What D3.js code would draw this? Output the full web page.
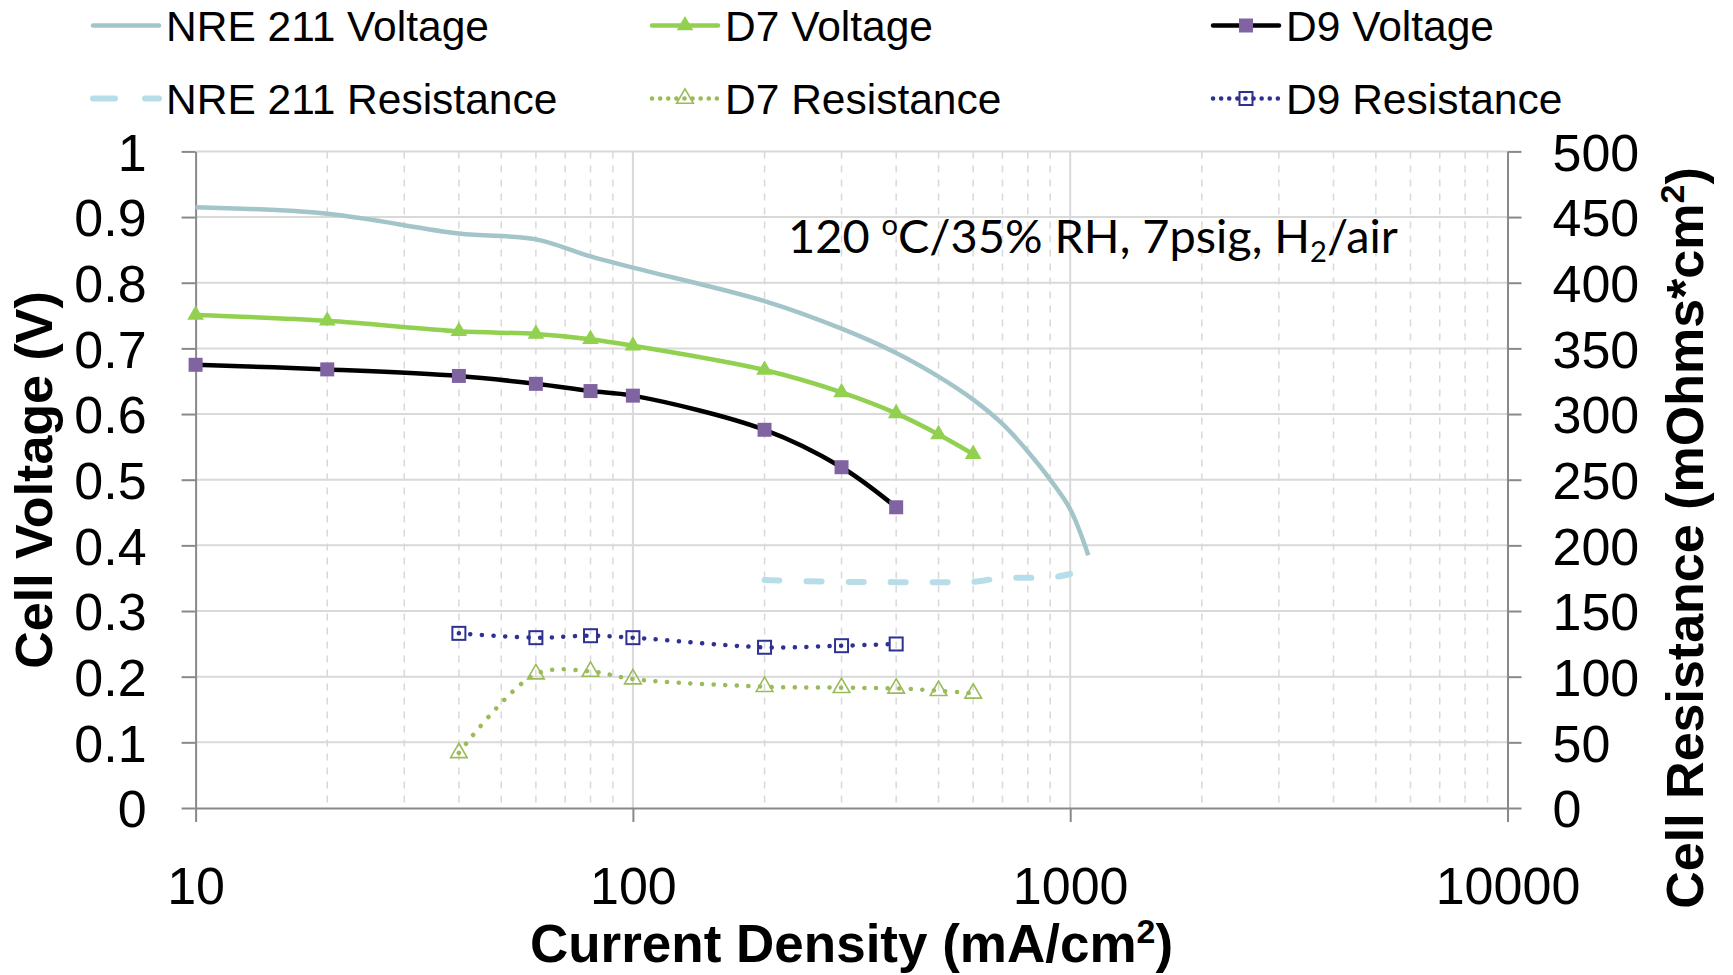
<!DOCTYPE html>
<html>
<head>
<meta charset="utf-8">
<script src="https://cdn.jsdelivr.net/npm/d3@7"></script>
<style>
  body { margin: 0; background: #fff; }
  svg { display: block; }
  text { fill: #000; }
</style>
</head>
<body>
<svg id="chart" width="1733" height="975" font-family="'Liberation Sans', Arial, sans-serif"></svg>
<script>
// current density (mA/cm2) and measured values
const nreCurrent = [10, 20, 40, 60, 80, 100, 200, 300, 400, 500, 600, 700, 800, 900, 1000, 1100];
const nreVoltage = [0.915, 0.905, 0.875, 0.866, 0.84, 0.823, 0.772, 0.73, 0.693, 0.657, 0.622, 0.585, 0.543, 0.5, 0.455, 0.385];

const d7Current = [10, 20, 40, 60, 80, 100, 200, 300, 400, 500, 600];
const d7Voltage = [0.751, 0.742, 0.726, 0.722, 0.714, 0.704, 0.667, 0.633, 0.601, 0.569, 0.539];

const d9Current = [10, 20, 40, 60, 80, 100, 200, 300, 400];
const d9Voltage = [0.675, 0.668, 0.658, 0.646, 0.635, 0.628, 0.576, 0.519, 0.458];

const nreResCurrent = [200, 300, 400, 500, 600, 700, 800, 900, 1000];
const nreResistance = [173.6, 172.2, 172.0, 172.0, 172.2, 175.2, 175.3, 175.3, 178.2];

const d7ResCurrent = [40, 60, 80, 100, 200, 300, 400, 500, 600];
const d7Resistance = [42, 102, 104, 98.2, 92.4, 91.6, 91.1, 89.3, 87.3];

const d9ResCurrent = [40, 60, 80, 100, 200, 300, 400];
const d9Resistance = [133.0, 129.7, 131.2, 129.7, 122.4, 123.6, 124.9];

const currentTicks = [10, 100, 1000, 10000];
const voltageTicks = [0, 0.1, 0.2, 0.3, 0.4, 0.5, 0.6, 0.7, 0.8, 0.9, 1];
const resistanceTicks = [0, 50, 100, 150, 200, 250, 300, 350, 400, 450, 500];

const plotLeft = 195.6, plotRight = 1507.5, plotTop = 151.4, plotBottom = 808;

const main = () => {
  const svg = d3.select("#chart");
  svg.append("rect").attr("width", 1733).attr("height", 975).attr("fill", "#fff");

  const x = d3.scaleLog().domain([10, 10000]).range([plotLeft, plotRight]);
  const y = d3.scaleLinear().domain([0, 1]).range([plotBottom, plotTop]);
  const yR = d3.scaleLinear().domain([0, 500]).range([plotBottom, plotTop]);

  // minor vertical grid (dashed)
  const minors = [];
  [10, 100, 1000].forEach((dec) => {
    for (let k = 2; k <= 9; k++) minors.push(dec * k);
  });
  svg.append("g")
    .selectAll("line")
    .data(minors)
    .enter()
    .append("line")
    .attr("x1", (d) => x(d)).attr("x2", (d) => x(d))
    .attr("y1", plotTop).attr("y2", plotBottom)
    .attr("stroke", "#d9d9d9")
    .attr("stroke-width", 1.5)
    .attr("stroke-dasharray", "7,7");

  // major grid
  svg.append("g")
    .selectAll("line")
    .data([100, 1000])
    .enter()
    .append("line")
    .attr("x1", (d) => x(d)).attr("x2", (d) => x(d))
    .attr("y1", plotTop).attr("y2", plotBottom)
    .attr("stroke", "#d9d9d9")
    .attr("stroke-width", 2);

  svg.append("g")
    .selectAll("line")
    .data(voltageTicks.slice(1))
    .enter()
    .append("line")
    .attr("x1", plotLeft).attr("x2", plotRight)
    .attr("y1", (d) => y(d)).attr("y2", (d) => y(d))
    .attr("stroke", "#d9d9d9")
    .attr("stroke-width", 2);

  // axes
  const axisColor = "#898989";
  const styleAxis = (g) => {
    g.attr("font-family", null);
    g.select(".domain").attr("stroke", axisColor).attr("stroke-width", 2);
    g.selectAll(".tick line").attr("stroke", axisColor).attr("stroke-width", 2);
    g.selectAll(".tick text").attr("font-size", 52).attr("fill", "#000");
  };

  svg.append("g")
    .attr("transform", "translate(0," + plotBottom + ")")
    .call(d3.axisBottom(x).tickValues(currentTicks).tickFormat(d3.format("d")).tickSize(14).tickSizeOuter(0))
    .call(styleAxis)
    .call((g) => g.selectAll(".tick text").attr("y", 0).attr("dy", 96));

  svg.append("g")
    .attr("transform", "translate(" + plotLeft + ",0)")
    .call(d3.axisLeft(y).tickValues(voltageTicks).tickFormat((d) => d3.format("")(d)).tickSize(14).tickSizeOuter(0))
    .call(styleAxis)
    .call((g) => g.selectAll(".tick text").attr("x", -49).attr("dy", "0.36em"));

  svg.append("g")
    .attr("transform", "translate(" + plotRight + ",0)")
    .call(d3.axisRight(yR).tickValues(resistanceTicks).tickSize(14).tickSizeOuter(0))
    .call(styleAxis)
    .call((g) => g.selectAll(".tick text").attr("x", 45).attr("dy", "0.36em"));

  // axis titles
  svg.append("text")
    .attr("transform", "translate(52,480) rotate(-90)")
    .attr("text-anchor", "middle")
    .attr("font-size", 52).attr("font-weight", "bold")
    .text("Cell Voltage (V)");

  const rTitle = svg.append("text")
    .attr("transform", "translate(1703,538) rotate(-90)")
    .attr("text-anchor", "middle")
    .attr("font-size", 52).attr("font-weight", "bold");
  rTitle.append("tspan").text("Cell Resistance (mOhms*cm");
  rTitle.append("tspan").attr("font-size", 34).attr("dy", -19).text("2");
  rTitle.append("tspan").attr("dy", 19).text(")");

  const xTitle = svg.append("text")
    .attr("x", (plotLeft + plotRight) / 2).attr("y", 962)
    .attr("text-anchor", "middle")
    .attr("font-size", 53).attr("font-weight", "bold");
  xTitle.append("tspan").text("Current Density (mA/cm");
  xTitle.append("tspan").attr("font-size", 34).attr("dy", -19).text("2");
  xTitle.append("tspan").attr("dy", 19).text(")");

  // annotation, fitted to the width it takes in the figure
  const buildNote = (fs) => {
    const t = svg.append("text")
      .attr("x", 788).attr("y", 253)
      .style("font-family", "Lato, 'Open Sans', sans-serif")
      .attr("font-size", fs);
    t.append("tspan").text("120 ");
    t.append("tspan").attr("font-size", fs * 0.62).attr("dy", -fs * 0.38).text("o");
    t.append("tspan").attr("dy", fs * 0.38).text("C/35% RH, 7psig, H");
    t.append("tspan").attr("font-size", fs * 0.62).attr("dy", fs * 0.2).text("2");
    t.append("tspan").attr("dy", -fs * 0.2).text("/air");
    return t;
  };
  let note = buildNote(44);
  const noteLen = note.node().getComputedTextLength();
  note.remove();
  note = buildNote(44 * 610 / noteLen);

  // series
  const curve = d3.curveCatmullRom.alpha(0.5);
  const zip = (xs, ys) => xs.map((v, i) => [v, ys[i]]);

  const series = [
    { name: "NRE 211 Resistance", pts: zip(nreResCurrent, nreResistance), sc: yR, color: "#b7dee8", width: 6, dash: "15,27", cap: "round" },
    { name: "D7 Resistance", pts: zip(d7ResCurrent, d7Resistance), sc: yR, color: "#9bbb59", width: 4.5, dash: "0.1,11.5", cap: "round", marker: "openTri" },
    { name: "D9 Resistance", pts: zip(d9ResCurrent, d9Resistance), sc: yR, color: "#2e3192", width: 4.5, dash: "0.1,11.5", cap: "round", marker: "openSq" },
    { name: "NRE 211 Voltage", pts: zip(nreCurrent, nreVoltage), sc: y, color: "#a3c5c9", width: 4.5 },
    { name: "D7 Voltage", pts: zip(d7Current, d7Voltage), sc: y, color: "#92d050", width: 4.5, marker: "tri" },
    { name: "D9 Voltage", pts: zip(d9Current, d9Voltage), sc: y, color: "#000", width: 4.5, marker: "sq" },
  ];

  const drawMarker = (g, type, cx, cy) => {
    if (type === "tri") {
      g.append("path").attr("d", d3.symbol(d3.symbolTriangle, 120)())
        .attr("transform", "translate(" + cx + "," + cy + ")").attr("fill", "#92d050");
    } else if (type === "sq") {
      g.append("rect").attr("x", cx - 7).attr("y", cy - 7).attr("width", 14).attr("height", 14)
        .attr("fill", "#8064a2");
    } else if (type === "openTri") {
      g.append("path").attr("d", d3.symbol(d3.symbolTriangle, 120)())
        .attr("transform", "translate(" + cx + "," + cy + ")")
        .attr("fill", "none").attr("stroke", "#9bbb59").attr("stroke-width", 1.6);
    } else if (type === "openSq") {
      g.append("rect").attr("x", cx - 6.5).attr("y", cy - 6.5).attr("width", 13).attr("height", 13)
        .attr("fill", "none").attr("stroke", "#2e3192").attr("stroke-width", 2);
    }
  };

  series.forEach((s) => {
    const line = d3.line().x((d) => x(d[0])).y((d) => s.sc(d[1])).curve(curve);
    svg.append("path")
      .datum(s.pts)
      .attr("d", line)
      .attr("fill", "none")
      .attr("stroke", s.color)
      .attr("stroke-width", s.width)
      .attr("stroke-linecap", s.cap || "butt")
      .attr("stroke-dasharray", s.dash || null);
  });

  series.forEach((s) => {
    if (!s.marker) return;
    const g = svg.append("g");
    s.pts.forEach((d) => drawMarker(g, s.marker, x(d[0]), s.sc(d[1])));
  });

  // legend
  const legendOrder = ["NRE 211 Voltage", "D7 Voltage", "D9 Voltage", "NRE 211 Resistance", "D7 Resistance", "D9 Resistance"];
  const colX = [90, 649, 1210];
  const rowY = [25.5, 98.5];
  legendOrder.forEach((name, i) => {
    const s = series.find((d) => d.name === name);
    const lx = colX[i % 3], ly = rowY[Math.floor(i / 3)];
    const g = svg.append("g");
    g.append("line")
      .attr("x1", lx + 3).attr("x2", lx + 69)
      .attr("y1", ly).attr("y2", ly)
      .attr("stroke", s.color)
      .attr("stroke-width", s.width)
      .attr("stroke-linecap", "round")
      .attr("stroke-dasharray", s.dash ? (s.dash.startsWith("0.1") ? "0.1,8" : "22,30") : null);
    if (s.marker) drawMarker(g, s.marker, lx + 36, ly);
    g.append("text")
      .attr("x", lx + 76).attr("y", ly + 15)
      .attr("font-size", 42.5)
      .text(name);
  });
};

main();
</script>
</body>
</html>
